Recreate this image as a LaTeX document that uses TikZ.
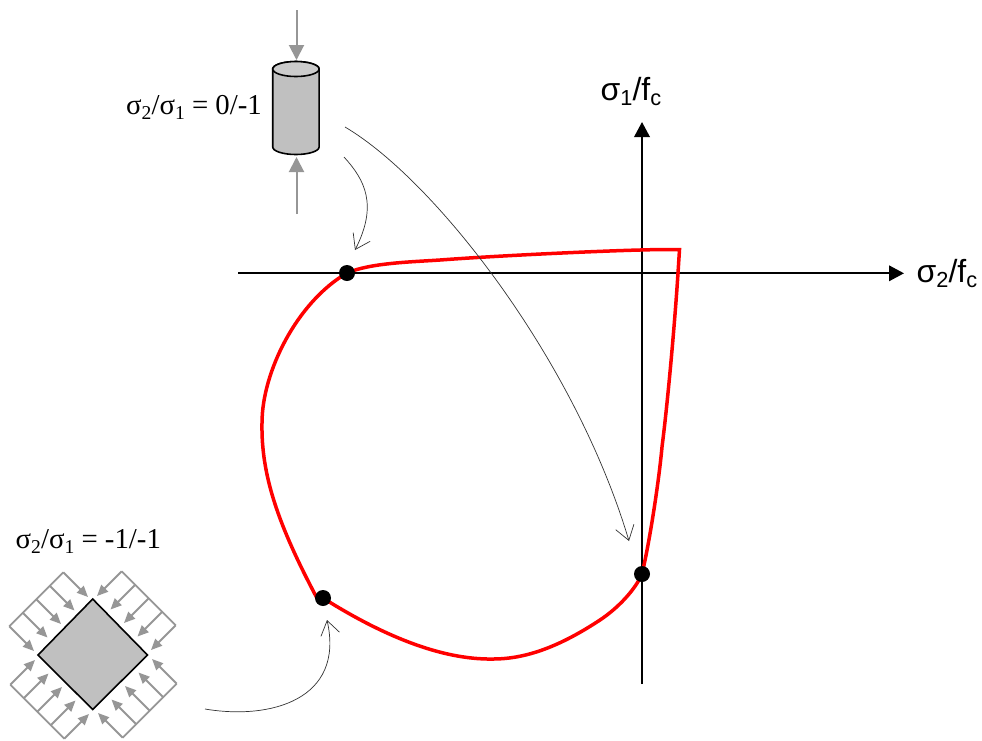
\documentclass[tikz,border=0pt]{standalone}
\usepackage{fontspec}
\setmainfont{Liberation Serif}
\newfontfamily\axisfont{Liberation Sans}
\usetikzlibrary{arrows.meta,calc}
\definecolor{pgrey}{HTML}{969696}
\definecolor{fillgrey}{HTML}{C0C0C0}
\definecolor{topgrey}{HTML}{CCCCCC}
\newcommand{\lowsub}[1]{\raisebox{-0.17em}{\scalebox{0.68}{#1}}}
\tikzset{
  axisline/.style={line width=2pt,black,-{Triangle[length=15pt,width=15.5pt]}},
  boundary/.style={line width=3.5pt,red,line join=miter},
  dotmark/.style={circle,fill=black,inner sep=0pt,minimum size=16pt},
  thinarrow/.style={line width=0.7pt,black!80,-{Straight Barb[length=14pt,width=19pt,line width=0.7pt]}},
  loadarrow/.style={line width=2pt,pgrey,-{Triangle[length=15pt,width=15pt]}},
  smallload/.style={line width=1.8pt,pgrey,-{Triangle[length=11pt,width=9.5pt]}},
  panel/.style={line width=1.8pt,pgrey},
  axislabel/.style={font=\axisfont\fontsize{32}{36}\selectfont,inner sep=0pt,anchor=base west},
  ratiolabel/.style={font=\fontsize{28.8}{32}\selectfont,inner sep=0pt,anchor=base west},
}
\begin{document}
\begin{tikzpicture}[x=1pt,y=-1pt]
\useasboundingbox (0,0) rectangle (982,740);
% axes
\coordinate (xstart) at (238,273.3);
\coordinate (xend) at (904,273.3);
\coordinate (ystart) at (642,684);
\coordinate (yend) at (642,122);
\draw[axisline] (xstart) -- (xend);
\draw[axisline] (ystart) -- (yend);
\node[axislabel] (xlabel) at (916.5,282) {σ\lowsub{2}/f\lowsub{c}};
\node[axislabel] (ylabel) at (600.5,100) {σ\lowsub{1}/f\lowsub{c}};
% boundary
\draw[boundary]
  (347,273) .. controls (370,263) and (410,262) .. (440,260)
  .. controls (500,255.5) and (600,251) .. (640,250)
  .. controls (655,249.5) and (670,249.5) .. (679.5,249.5)
  -- (678,273)
  .. controls (675,320) and (668,400) .. (662,447)
  .. controls (659,480) and (650,540) .. (642,574)
  .. controls (635,590) and (618,608) .. (600,620)
  .. controls (565,643) and (530,659) .. (493,659)
  .. controls (440,660) and (380,634) .. (323,598);
\draw[boundary]
  (347,273) .. controls (297,302) and (262,372) .. (262,423)
  .. controls (261,475) and (278,525) .. (318,600);
% dots
\node[dotmark] (d1) at (347,273) {};
\node[dotmark] (d2) at (323,598) {};
\node[dotmark] (d3) at (642,574) {};
% cylinder
\filldraw[line width=1.6pt,fill=fillgrey,draw=black]
  (272.7,69) -- (272.7,147) arc[start angle=180,end angle=0,x radius=23.2,y radius=7.5]
  -- (319.1,69) arc[start angle=0,end angle=-180,x radius=23.2,y radius=7.5] -- cycle;
\filldraw[line width=1.6pt,fill=topgrey,draw=black] (295.9,69) ellipse[x radius=23.2,y radius=7.5];
\coordinate (loadtopa) at (296.5,10);
\coordinate (loadtopb) at (296.5,60);
\coordinate (loadbota) at (296.5,214);
\coordinate (loadbotb) at (296.5,157);
\draw[loadarrow] (loadtopa) -- (loadtopb);
\draw[loadarrow] (loadbota) -- (loadbotb);
\node[ratiolabel] (r1) at (126,114.5) {σ\lowsub{2}/σ\lowsub{1} = 0/-1};
\node[ratiolabel] (r2) at (15.5,548.5) {σ\lowsub{2}/σ\lowsub{1} = -1/-1};
% diamond
\filldraw[line width=1.6pt,fill=fillgrey,draw=black,line join=miter]
  (92.7,599) -- (147.5,655) -- (92.7,709.5) -- (38,655) -- cycle;
\foreach \a in {0,90,180,270}{
  \begin{scope}[rotate around={\a:(93,655)}]
    \draw[panel] (63.3,572.3) -- (9.3,626.3);
    \foreach \t in {0,0.25,0.5,0.75,1}{
      \draw[smallload] ($(63.3,572.3)!\t!(9.3,626.3)$) -- ($(88,597)!\t!(34,651)$);
    }
  \end{scope}
}
% thin arrows
\coordinate (a1s) at (345,127);
\coordinate (a1e) at (629,541);
\coordinate (a2s) at (344,157);
\coordinate (a2e) at (355,250);
\coordinate (a3s) at (205,709);
\coordinate (a3e) at (327,620);
\draw[thinarrow] (a1s) .. controls (435,180) and (575,360) .. (a1e);
\draw[thinarrow] (a2s) .. controls (365,180) and (378,205) .. (a2e);
\draw[thinarrow] (a3s) .. controls (270,720) and (345,700) .. (a3e);
\end{tikzpicture}
\end{document}
